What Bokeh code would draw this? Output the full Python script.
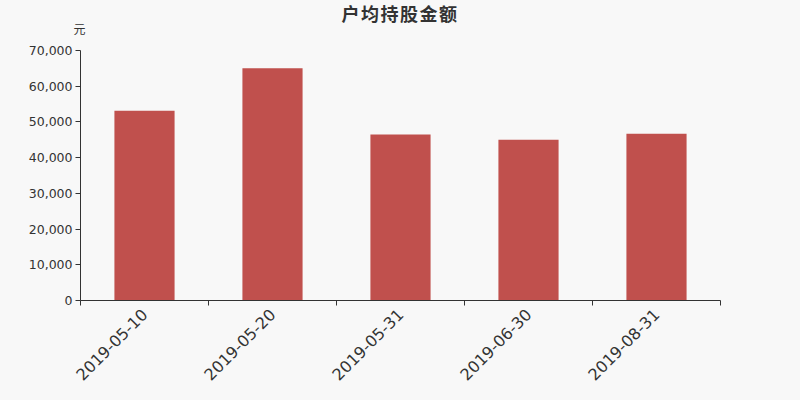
from bokeh.plotting import figure
from bokeh.layouts import column
from bokeh.models import ColumnDataSource, FixedTicker, NumeralTickFormatter, Range1d, Div
from bokeh.embed import file_html
from bokeh.resources import INLINE
import math

dates = ["2019-05-10", "2019-05-20", "2019-05-31", "2019-06-30", "2019-08-31"]
values = [53100, 65000, 46500, 45000, 46700]
y_ticks = [0, 10000, 20000, 30000, 40000, 50000, 60000, 70000]
title_text = "户均持股金额"
unit_text = "元"

BG = "#f8f8f8"
BAR = "#c0504d"
TXT = "#333333"
W = 800
HEAD_H = 42

# ---- header band (title and unit) ----
head_html = (
    f'<div style="position:relative;width:{W}px;height:{HEAD_H}px;background:{BG};'
    f'margin:0;padding:0;overflow:hidden;">'
    f'<div style="position:absolute;left:0;top:3px;width:{W}px;text-align:center;'
    f'font-family:\'Noto Sans CJK SC\';font-size:18px;font-weight:bold;line-height:21px;'
    f'letter-spacing:1.5px;color:{TXT};">{title_text}</div>'
    f'<div style="position:absolute;left:70px;top:21px;width:19px;text-align:center;'
    f'font-family:\'Noto Sans CJK SC\';font-size:12px;line-height:16px;color:{TXT};">{unit_text}</div>'
    f'</div>'
)
head = Div(text=head_html, width=W, height=HEAD_H, margin=0,
           styles={"background-color": BG, "padding": "0", "margin": "0"})

# ---- main chart ----
xs = [i + 0.5 for i in range(len(dates))]
src = ColumnDataSource(dict(x=xs, top=values, label=dates))

p = figure(width=W, height=400 - HEAD_H, output_backend="svg", toolbar_location=None,
           x_range=Range1d(0, len(dates)), y_range=Range1d(0, 70000),
           min_border_left=80, min_border_right=80, min_border_top=50 - HEAD_H,
           min_border_bottom=100)
p.background_fill_color = BG
p.border_fill_color = BG
p.outline_line_color = None
p.xgrid.visible = False
p.ygrid.visible = False

p.vbar(x="x", top="top", width=0.47, bottom=0, source=src, color=BAR, line_color=None)

# y axis
p.yaxis.ticker = FixedTicker(ticks=y_ticks)
p.yaxis.formatter = NumeralTickFormatter(format="0,0")
p.yaxis.axis_line_color = TXT
p.yaxis.major_tick_line_color = TXT
p.yaxis.major_tick_out = 5
p.yaxis.major_tick_in = 0
p.yaxis.minor_tick_line_color = None
p.yaxis.major_label_text_font = "DejaVu Sans"
p.yaxis.major_label_text_font_size = "12.5px"
p.yaxis.major_label_text_color = TXT
p.yaxis.major_label_standoff = 3

# x axis: labels at bar centers, ticks at category boundaries
p.xaxis.ticker = FixedTicker(ticks=xs, minor_ticks=list(range(len(dates) + 1)))
p.xaxis.major_label_overrides = {x: d for x, d in zip(xs, dates)}
p.xaxis.major_tick_out = 0
p.xaxis.major_tick_in = 0
p.xaxis.minor_tick_out = 5
p.xaxis.minor_tick_in = 0
p.xaxis.minor_tick_line_color = TXT
p.xaxis.axis_line_color = TXT
p.xaxis.major_label_orientation = math.pi / 4
p.xaxis.major_label_text_font = "DejaVu Sans"
p.xaxis.major_label_text_font_size = "16px"
p.xaxis.major_label_text_color = TXT
p.xaxis.major_label_standoff = 6

layout = column(head, p, spacing=0, styles={"background-color": BG})
open("out.html", "w").write(file_html(layout, INLINE))
